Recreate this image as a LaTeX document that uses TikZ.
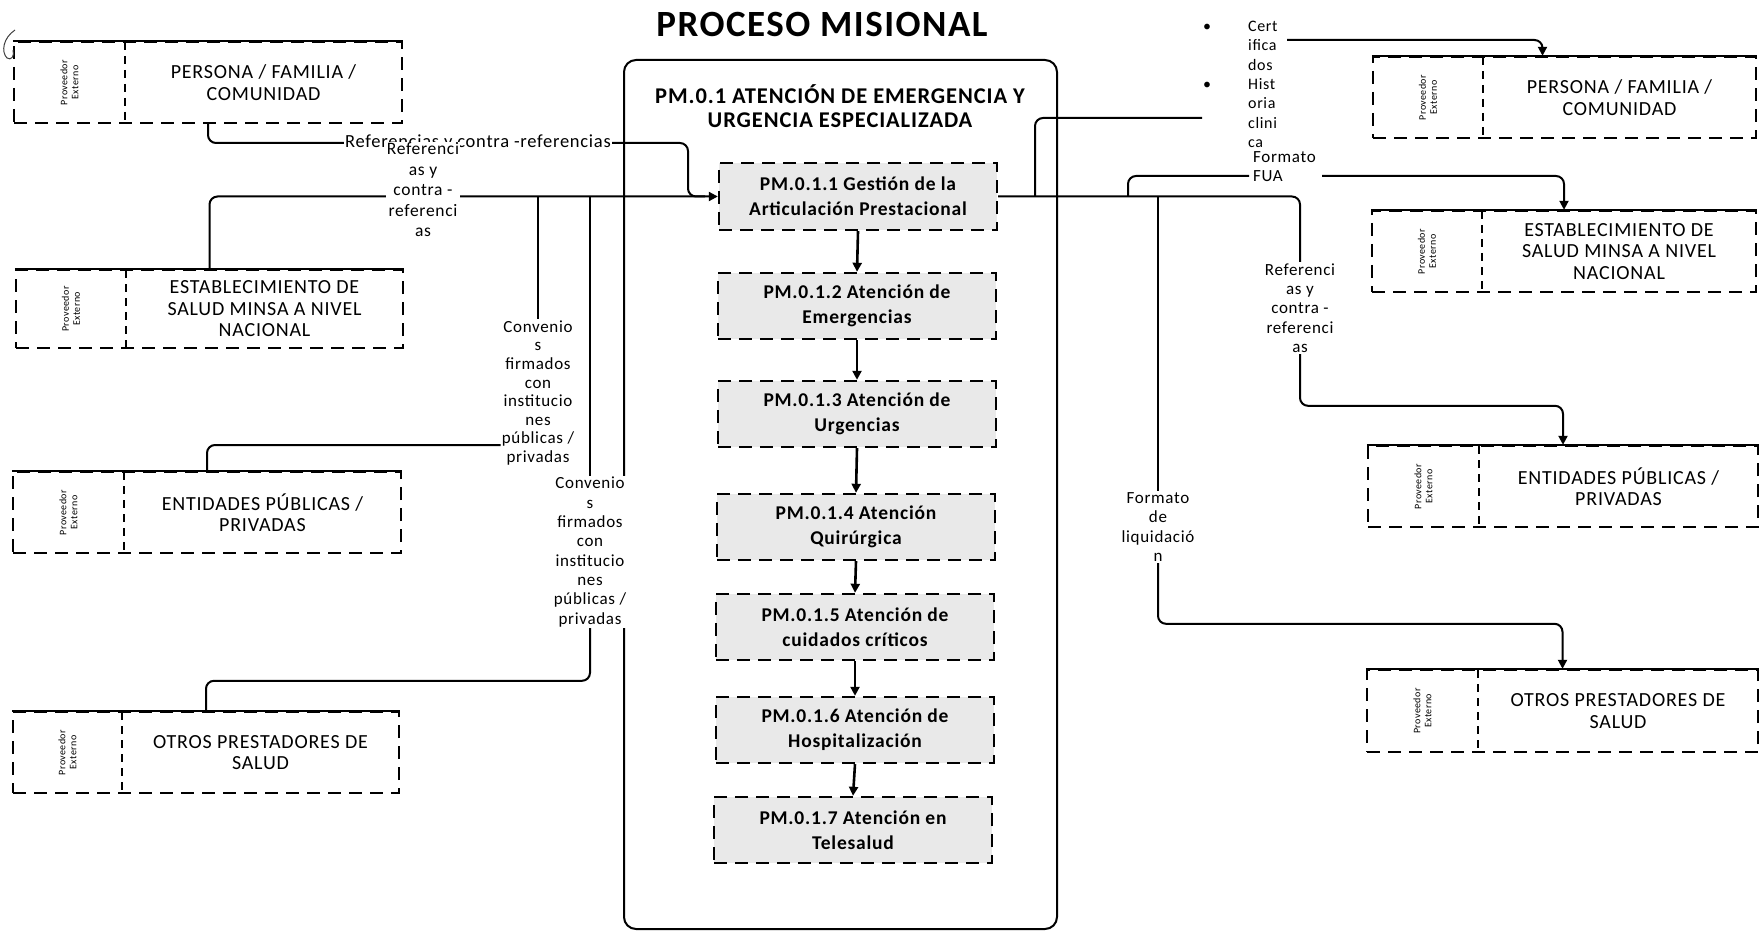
\documentclass[tikz,border=0pt]{standalone}
\usepackage{fontspec}
\setmainfont{Carlito}[LetterSpace=4]
\usetikzlibrary{arrows.meta,backgrounds}
\newcommand\extnode[7]{%
  \node[extbox, minimum width={(#4-#2)*1pt}, minimum height={(#5-#3)*1pt}] (#1) at ({(#2+#4)/2},{(#3+#5)/2}) {};
  \draw[topline] (#1.north west) -- (#1.north east);
  \draw[divline] (#6,#3) -- (#6,#5);
  \node[prov] (#1p) at ({(#2+#6)/2},{(#3+#5)/2}) {Proveedor\\Externo};
  \node[exttext] (#1t) at ({(#6+#4)/2},{(#3+#5)/2}) {#7};
}
\begin{document}
\begin{tikzpicture}[x=1pt,y=-1pt,
  conn/.style={line width=2pt, rounded corners=8pt},
  arr/.style={-{Triangle[length=9pt,width=9pt]}},
  extbox/.style={draw, line width=2.4pt, dash pattern=on 13pt off 8pt, fill=white, inner sep=0pt},
  topline/.style={line width=2.4pt},
  divline/.style={line width=2pt, dash pattern=on 8pt off 6pt},
  prov/.style={rotate=90, font=\fontsize{10}{11}\selectfont, align=center, inner sep=0pt},
  exttext/.style={font=\fontsize{20}{21.5}\selectfont, align=center, inner sep=0pt},
  proc/.style={draw, line width=2.4pt, dash pattern=on 13pt off 8pt, fill=gray!17, minimum width=278pt, minimum height=66pt, inner sep=0pt, font=\bfseries\fontsize{19.5}{25}\selectfont, align=center},
  lbl/.style={font=\fontsize{17}{19}\selectfont, align=center, fill=white, inner sep=1pt},
]
\useasboundingbox (0,0) rectangle (1760,933);

% title and container
\node[font=\bfseries\fontsize{37}{42}\selectfont] (title) at (822,24) {PROCESO MISIONAL};
\node[draw, line width=2pt, rounded corners=12pt, minimum width=433pt, minimum height=869pt, inner sep=0pt] (cont) at (840.5,494.5) {};
\node[font=\bfseries\fontsize{22.5}{23.5}\selectfont, align=center] (ctitle) at (840,106) {PM.0.1 ATENCIÓN DE EMERGENCIA Y\\URGENCIA ESPECIALIZADA};

% process boxes
\node[proc, minimum height=67pt] (B1) at (858,196.5) {PM.0.1.1 Gestión de la\\Articulación Prestacional};
\node[proc] (B2) at (857,306) {PM.0.1.2 Atención de\\Emergencias};
\node[proc] (B3) at (857,414) {PM.0.1.3 Atención de\\Urgencias};
\node[proc] (B4) at (856,527) {PM.0.1.4 Atención\\Quirúrgica};
\node[proc] (B5) at (855,627) {PM.0.1.5 Atención de\\cuidados críticos};
\node[proc] (B6) at (855,730) {PM.0.1.6 Atención de\\Hospitalización};
\node[proc] (B7) at (853,830) {PM.0.1.7 Atención en\\Telesalud};
\foreach \a/\b in {B1/B2,B2/B3,B3/B4,B4/B5,B5/B6,B6/B7}
  \draw[line width=2.6pt, arr] (\a.south) -- (\b.north);

% external boxes
\extnode{L1}{14}{42}{402}{123}{125}{PERSONA / FAMILIA /\\COMUNIDAD}
\extnode{L2}{16}{270}{403}{348}{126}{ESTABLECIMIENTO DE\\SALUD MINSA A NIVEL\\NACIONAL}
\extnode{L3}{13}{472}{401}{553}{124}{ENTIDADES PÚBLICAS /\\PRIVADAS}
\extnode{L4}{13}{712}{399}{793}{122}{OTROS PRESTADORES DE\\SALUD}
\extnode{R1}{1373}{57}{1756}{138}{1483}{PERSONA / FAMILIA /\\COMUNIDAD}
\extnode{R2}{1372}{211}{1756}{292}{1482}{ESTABLECIMIENTO DE\\SALUD MINSA A NIVEL\\NACIONAL}
\extnode{R3}{1368}{446}{1758}{527}{1479}{ENTIDADES PÚBLICAS /\\PRIVADAS}
\extnode{R4}{1367}{670}{1758}{752}{1478}{OTROS PRESTADORES DE\\SALUD}

% labels
\node[lbl, font=\fontsize{18.5}{20}\selectfont] (lab1) at (478,143) {Referencias y contra -referencias};
\node[lbl, font=\fontsize{17.5}{20.5}\selectfont] (lab2) at (423,190) {Referenci\\as y\\contra -\\referenci\\as};
\node[lbl, font=\fontsize{17}{18.6}\selectfont] (conv1) at (538,393) {Convenio\\s\\firmados\\con\\institucio\\nes\\públicas /\\privadas};
\node[lbl, font=\fontsize{17}{19.3}\selectfont] (conv2) at (590,552) {Convenio\\s\\firmados\\con\\institucio\\nes\\públicas /\\privadas};
\node[lbl, font=\fontsize{17}{19.3}\selectfont] (lab3) at (1300,308) {Referenci\\as y\\contra -\\referenci\\as};
\node[lbl, font=\fontsize{17}{19.6}\selectfont] (liq) at (1158,527) {Formato\\de\\liquidació\\n};
\node[lbl, font=\fontsize{17}{19}\selectfont, align=left, anchor=west] (fua) at (1252,167) {Formato\\FUA};
\node[lbl, font=\fontsize{16}{19.3}\selectfont, align=left, anchor=north west, inner sep=0pt] (cert) at (1203,21)
  {\makebox[45pt][l]{\textbullet}Cert\\\hspace*{45pt}ifica\\\hspace*{45pt}dos\\\makebox[45pt][l]{\textbullet}Hist\\\hspace*{45pt}oria\\\hspace*{45pt}clini\\\hspace*{45pt}ca};

\coordinate (jA) at (688,143);
\coordinate (jB) at (705,196.5);
\coordinate (jC) at (1035,196.5);
\coordinate (certIn) at (1202,118);
\coordinate (certOut) at (1287,40);
\coordinate (jF) at (1128,196.5);
\coordinate (fuaIn) at (1249,176);
\coordinate (fuaOut) at (1322,176);

\begin{pgfonlayer}{background}
\fill[white] (0,0) rectangle (1760,933);
% left connectors
\draw[conn] (L1.south) |- (jA) |- (jB);
\draw[conn, arr] (L2.north) |- (B1.west);
\draw[conn] (conv1.north |- B1.west) -- (conv1.north);
\draw[conn] (L3.north) |- ([yshift=-52pt]conv1.west);
\draw[conn] (conv2.north |- B1.west) -- (conv2.north);
\draw[conn] (conv2.south) |- ([yshift=30pt]L4.north) -- (L4.north);
% right connectors
\draw[conn] (B1.east) -| (lab3.north);
\draw[conn, arr] (lab3.south) |- ([yshift=39pt]R3.north) -- (R3.north);
\draw[conn] (jC) |- (certIn);
\draw[conn, arr] (certOut) -| ([xshift=-22pt]R1.north);
\draw[conn] (jF) |- (fuaIn);
\draw[conn, arr] (fuaOut) -| (R2.north);
\draw[conn] (liq.north |- B1.east) -- (liq.north);
\draw[conn, arr] (liq.south) |- ([yshift=45pt]R4.north) -- (R4.north);
\end{pgfonlayer}

% pen mark
\draw[line width=1pt, gray!50!black] (15,30) .. controls (3,38) and (1,52) .. (7,58) .. controls (11,61) and (15,56) .. (13,50);
\end{tikzpicture}
\end{document}
